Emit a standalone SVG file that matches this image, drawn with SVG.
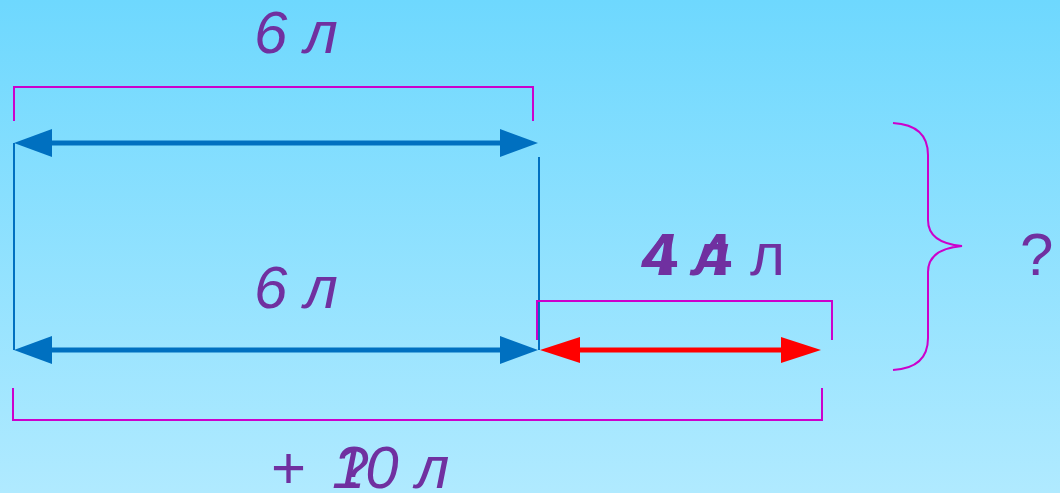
<svg xmlns="http://www.w3.org/2000/svg" width="1060" height="493" viewBox="0 0 1060 493">
<defs>
<linearGradient id="bg" x1="0" y1="0" x2="0" y2="1">
<stop offset="0" stop-color="#6ed8fe"/>
<stop offset="1" stop-color="#b0eaff"/>
</linearGradient>
<style>
.t{font-family:"Liberation Sans",Arial,sans-serif;font-size:60px;fill:#7030a0}
.i{font-style:italic}
.b{font-weight:bold}
.mg{fill:none;stroke:#cc00cc;stroke-width:2}
.bl{stroke:#0070c0;stroke-width:5}
.blv{stroke:#0070c0;stroke-width:2}
.rd{stroke:#ff0000;stroke-width:5}
</style>
</defs>
<rect width="1060" height="493" fill="url(#bg)"/>
<g id="connectors">
<path class="mg" d="M14,121 V87 H533 V121"/>
<line class="blv" x1="14" y1="143" x2="14" y2="350"/>
<line class="blv" x1="539" y1="157" x2="539" y2="350"/>
<line class="bl" x1="48" y1="143" x2="502" y2="143"/>
<polygon fill="#0070c0" points="14,143 52,129 52,157"/>
<polygon fill="#0070c0" points="538,143 500,129 500,157"/>
<line class="bl" x1="48" y1="350" x2="502" y2="350"/>
<polygon fill="#0070c0" points="14,350 52,336 52,364"/>
<polygon fill="#0070c0" points="538,350 500,336 500,364"/>
<path class="mg" d="M537,340 V301 H832 V340"/>
<line class="rd" x1="570" y1="350" x2="790" y2="350"/>
<polygon fill="#ff0000" points="540,350 580,337 580,363"/>
<polygon fill="#ff0000" points="821,350 781,337 781,363"/>
<path class="mg" d="M13,388 V420 H822 V388"/>
<path class="mg" d="M893,123 Q928,125 928,155 V220 Q928,243 962,246 Q928,249 928,272 V338 Q928,368 893,370"/>
</g>
<g id="label-top"><text class="t i" x="254" y="53">6 л</text></g>
<g id="label-mid"><text class="t i" x="254" y="308">6 л</text></g>
<g id="label-red">
<text class="t i b" x="642" y="275">4 л</text>
<text class="t b" x="644" y="275">4</text>
<text class="t b" x="698" y="275">4</text>
<text class="t" x="750" y="275">л</text>
</g>
<g id="label-q"><text class="t" x="1020" y="275">?</text></g>
<g id="label-bottom">
<text class="t" x="271" y="488">+</text>
<text class="t i" x="332" y="488">10 л</text>
<text class="t" x="337" y="488">?</text>
</g>
</svg>
